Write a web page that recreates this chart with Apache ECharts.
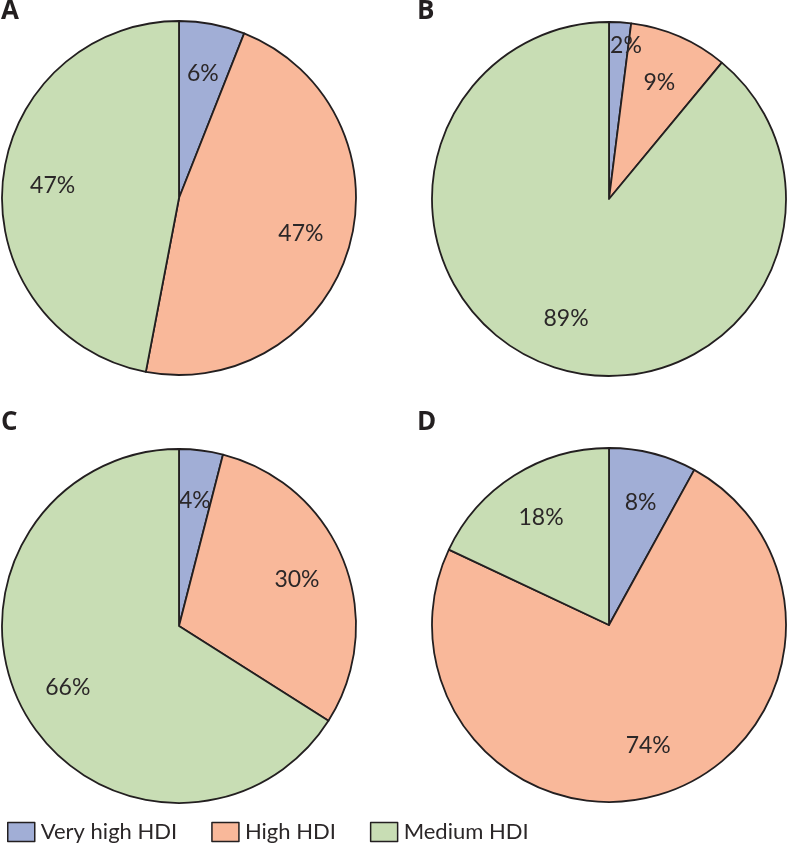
<!DOCTYPE html>
<html>
<head>
<meta charset="utf-8">
<script src="https://cdn.jsdelivr.net/npm/echarts@6/dist/echarts.min.js"></script>
<style>
html,body{margin:0;padding:0;background:#fff;}
#chart{width:788px;height:852px;}
</style>
</head>
<body>
<div id="chart"></div>
<script>
const categories = ['Very high HDI', 'High HDI', 'Medium HDI'];
const panelLetters = ['A', 'B', 'C', 'D'];
const valuesA = [6, 47, 47];
const valuesB = [2, 9, 89];
const valuesC = [4, 30, 66];
const valuesD = [8, 74, 18];

const panelValues = [valuesA, valuesB, valuesC, valuesD];
const colors = ['#a1aed6', '#f9b89a', '#c8ddb4'];
const edge = '#231f20';
const centers = [[179, 198], [609, 199], [179, 626], [609, 625]];
const letterPos = [[1, -1], [417, -1], [1, 410], [417, 410]];
const R = 177;
const fontFam = 'Lato, "Open Sans", sans-serif';
// label nudges (styling only) keyed by panel/slice
const labelNudge = { '1-0': [9, -27] };

const chart = echarts.init(document.getElementById('chart'));
const series = [];
panelValues.forEach((vals, p) => {
  series.push({
    type: 'pie',
    center: centers[p],
    radius: R,
    startAngle: 90,
    clockwise: true,
    silent: true,
    animation: false,
    label: { show: false },
    labelLine: { show: false },
    itemStyle: { borderColor: edge, borderWidth: 1.8 },
    data: vals.map((v, i) => ({ name: categories[i], value: v, itemStyle: { color: colors[i] } }))
  });
});
panelValues.forEach((vals, p) => {
  series.push({
    type: 'pie',
    center: centers[p],
    radius: [R * 0.4, R],
    startAngle: 90,
    clockwise: true,
    silent: true,
    animation: false,
    z: 5,
    legendHoverLink: false,
    labelLine: { show: false },
    itemStyle: { color: 'rgba(0,0,0,0)', borderWidth: 0 },
    label: {
      show: true, position: 'inside', formatter: '{c}%',
      fontFamily: fontFam, fontSize: 23, color: '#2b2728', rotate: 0
    },
    data: vals.map((v, i) => {
      const n = labelNudge[p + '-' + i];
      const d = { name: categories[i], value: v };
      if (n) d.label = { offset: n };
      return d;
    })
  });
});

chart.setOption({
  backgroundColor: '#fff',
  animation: false,
  title: panelLetters.map((t, i) => ({
    text: t, left: letterPos[i][0], top: letterPos[i][1], padding: 0,
    textStyle: { fontFamily: '"Open Sans", sans-serif', fontWeight: 'bold', fontSize: 26, color: edge }
  })),
  legend: {
    left: 2, bottom: 4, orient: 'horizontal',
    itemWidth: 27, itemHeight: 19, itemGap: 34,
    selectedMode: false,
    textStyle: { fontFamily: fontFam, fontSize: 22, color: '#2b2728', padding: [0, 0, 0, 1] },
    data: categories.map((c, i) => ({
      name: c, icon: 'rect',
      itemStyle: { color: colors[i], borderColor: edge, borderWidth: 1.5 }
    }))
  },
  series: series
});
</script>
</body>
</html>
